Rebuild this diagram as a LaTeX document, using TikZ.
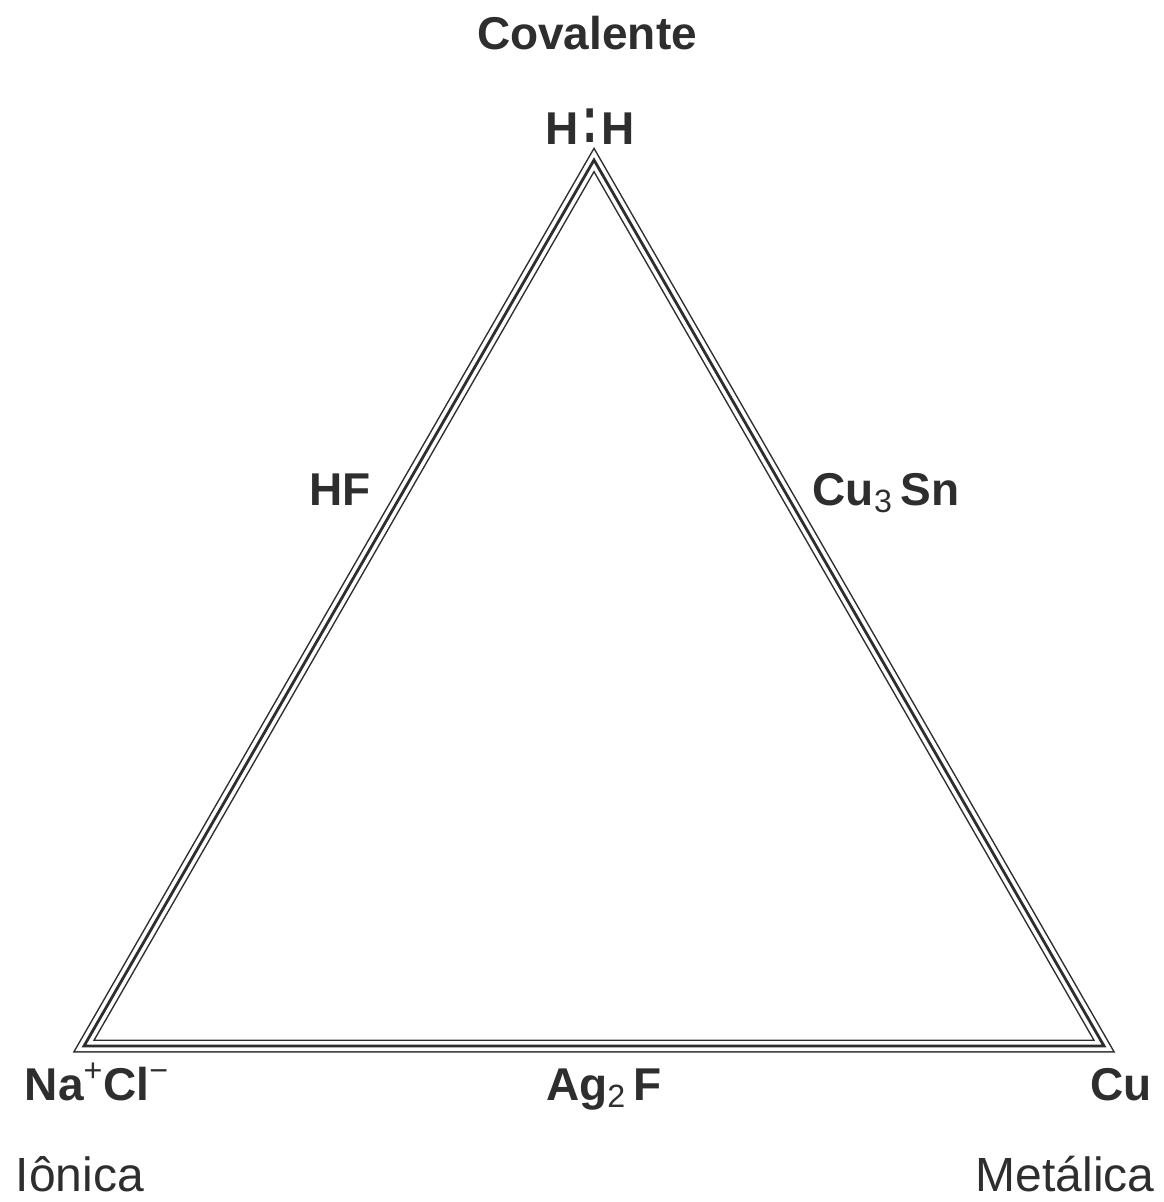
\documentclass[tikz,border=0pt]{standalone}
\usepackage{fontspec}
\setmainfont{Liberation Sans}
\usepackage{graphicx}
\usepackage{xcolor}
\usepackage{tikz}
\usetikzlibrary{positioning}
\definecolor{tinta}{HTML}{2E2E2E}

\begin{document}
\begin{tikzpicture}[
  x=0.5pt, y=-0.5pt,
  font=\fontsize{23}{26}\selectfont\bfseries,
  rotulo/.style={text=tinta, anchor=base, inner sep=0pt},
  tipo/.style={text=tinta, anchor=base, inner sep=0pt, font=\fontsize{24}{28}\selectfont}
]
  \useasboundingbox (0,0) rectangle (1163,1202);

  % Vértices do triângulo (linha central)
  \coordinate (Cov) at (594,160);
  \coordinate (Ion) at (84,1046);
  \coordinate (Met) at (1104,1046);

  % --- Triângulo com traço triplo ---
  \draw[tinta, line width=6.5pt, line join=miter] (Cov) -- (Ion) -- (Met) -- cycle;
  \draw[white, line width=5pt, line join=miter] (Cov) -- (Ion) -- (Met) -- cycle;
  \draw[tinta, line width=1.4pt, line join=miter] (Cov) -- (Ion) -- (Met) -- cycle;

  % --- Tipos de ligação ---
  \node[rotulo] (covalente) at (587,50) {Covalente};
  \node[tipo] (ionica) at (80,1191) {Iônica};
  \node[tipo] (metalica) at (1065,1191) {Metálica};

  % --- Compostos ---
  \node[rotulo] (hh) at (590,145) {H\kern2pt\raisebox{0.1ex}{\scalebox{1}[1.45]{:}}\kern2pt H};
  \node[rotulo] (hf) at (340,505) {HF};
  \node[rotulo] (cusn) at (886,505) {Cu\textsubscript{\mdseries 3}\,Sn};
  \node[rotulo] (nacl) at (97,1100) {Na\textsuperscript{\mdseries +}Cl\textsuperscript{\mdseries −}};
  \node[rotulo] (agf) at (604,1100) {Ag\textsubscript{\mdseries 2}\,F};
  \node[rotulo] (cu) at (1121,1100) {Cu};

\end{tikzpicture}
\end{document}
